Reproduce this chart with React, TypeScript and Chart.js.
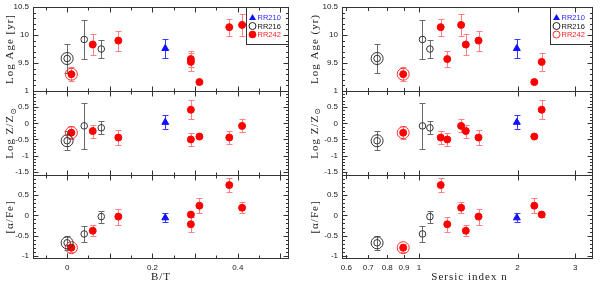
import React, { useEffect, useRef } from 'react';
import { Chart, registerables } from 'chart.js';

Chart.register(...registerables);

// ---------------- data ----------------
// RR210 (blue triangle)
const RR210_BT = [0.23];
const RR210_N = [1.99];
const RR210_AGE = [9.76];
const RR210_AGE_ERR = [0.17];
const RR210_Z = [0.03];
const RR210_Z_ERR = [0.22];
const RR210_AFE = [-0.06];
const RR210_AFE_ERR = [0.11];
const RR210_CIRCLED: number[] = [];

// RR216 (black open circles); index 0 is the circled galaxy
const RR216_BT = [0.0, 0.04, 0.08];
const RR216_N = [0.745, 1.025, 1.08];
const RR216_AGE = [9.58, 9.92, 9.75];
const RR216_AGE_ERR = [0.26, 0.34, 0.16];
const RR216_Z = [-0.54, -0.08, -0.14];
const RR216_Z_ERR = [0.29, 0.71, 0.2];
const RR216_AFE = [-0.68, -0.46, -0.03];
const RR216_AFE_ERR = [0.17, 0.2, 0.15];
const RR216_CIRCLED = [0];

// RR242 (red filled circles); index 0 is the circled galaxy
const RR242_BT = [0.01, 0.06, 0.12, 0.29, 0.29, 0.31, 0.38, 0.41];
const RR242_N = [0.895, 1.39, 1.52, 1.22, 2.37, 2.25, 1.165, 1.345];
const RR242_AGE = [9.3, 9.83, 9.9, 9.57, 9.52, 9.16, 10.14, 10.18];
const RR242_AGE_ERR = [0.13, 0.18, 0.18, 0.14, 0.16, 0.03, 0.15, 0.19];
const RR242_Z = [-0.29, -0.24, -0.44, -0.5, 0.42, -0.41, -0.44, -0.08];
const RR242_Z_ERR = [0.21, 0.2, 0.23, 0.2, 0.3, 0.05, 0.2, 0.2];
const RR242_AFE = [-0.8, -0.38, -0.03, -0.22, 0.02, 0.24, 0.75, 0.19];
const RR242_AFE_ERR = [0.1, 0.14, 0.2, 0.19, 0.05, 0.19, 0.17, 0.14];
const RR242_CIRCLED = [0];

// tick labels
const AGE_TICKS = [9.5, 10, 10.5];
const Z_TICKS = [-1.5, -1, -0.5, 0, 0.5, 1];
const AFE_TICKS = [-1, -0.5, 0, 0.5];
const BT_TICKS = [0, 0.2, 0.4];
const N_TICKS = [0.6, 0.7, 0.8, 0.9, 1, 2, 3];
const LEGEND_LABELS = ['RR210', 'RR216', 'RR242'];

// ---------------- styles ----------------
const FRAME = '#333333';
const TEXT = '#222222';
const TICK_FONT = { family: '"Liberation Sans", Arial, sans-serif', size: 8 };
const TITLE_FONT = '11px "Liberation Serif", "DejaVu Serif", serif';
const SUB_FONT = '8px "DejaVu Sans", sans-serif';

const GROUPS = [
  {
    bt: RR210_BT, n: RR210_N,
    vals: [RR210_AGE, RR210_Z, RR210_AFE], errs: [RR210_AGE_ERR, RR210_Z_ERR, RR210_AFE_ERR],
    circled: RR210_CIRCLED,
    style: 'triangle', radius: 4, fill: '#1010ff', stroke: '#1010ff', err: '#3a3aff', ring: '#1010ff', text: '#2a2aff',
  },
  {
    bt: RR216_BT, n: RR216_N,
    vals: [RR216_AGE, RR216_Z, RR216_AFE], errs: [RR216_AGE_ERR, RR216_Z_ERR, RR216_AFE_ERR],
    circled: RR216_CIRCLED,
    style: 'circle', radius: 3.3, fill: 'rgba(255,255,255,0)', stroke: '#333333', err: '#6a6a6a', ring: '#333333', text: '#111111',
  },
  {
    bt: RR242_BT, n: RR242_N,
    vals: [RR242_AGE, RR242_Z, RR242_AFE], errs: [RR242_AGE_ERR, RR242_Z_ERR, RR242_AFE_ERR],
    circled: RR242_CIRCLED,
    style: 'circle', radius: 3.5, fill: '#ff0000', stroke: '#ff0000', err: '#ff8080', ring: '#ff3030', text: '#ff2020',
  },
];

// rows from top to bottom
const ROWS = [
  { id: 'yAge', min: 9, max: 10.5, ticks: AGE_TICKS, title: ['Log Age [yr]', 'Log Age (yr)'], sub: '' },
  { id: 'yZ', min: -1.6, max: 1, ticks: Z_TICKS, title: ['Log Z/Z', 'Log Z/Z'], sub: '\u2299' },
  { id: 'yA', min: -1.08, max: 1, ticks: AFE_TICKS, title: ['[\u03b1/Fe]', '[\u03b1/Fe]'], sub: '' },
];

const fmt = (v: any) => String(Math.round(Number(v) * 100) / 100);

function buildDatasets(col: number) {
  const out: any[] = [];
  GROUPS.forEach((g) => {
    const xv = col === 0 ? g.bt : g.n;
    ROWS.forEach((row, r) => {
      const vals = g.vals[r];
      const errs = g.errs[r];
      if (g.circled.length) {
        out.push({
          data: g.circled.map((i) => ({ x: xv[i], y: vals[i] })),
          yAxisID: row.id,
          pointStyle: 'circle',
          pointRadius: 6,
          pointBackgroundColor: 'rgba(0,0,0,0)',
          pointBorderColor: g.ring,
          pointBorderWidth: 1,
        });
      }
      out.push({
        data: xv.map((x, i) => ({ x, y: vals[i] })),
        errs,
        errColor: g.err,
        yAxisID: row.id,
        pointStyle: g.style,
        pointRadius: g.radius,
        pointBackgroundColor: g.fill,
        pointBorderColor: g.stroke,
        pointBorderWidth: 1,
      });
    });
  });
  return out;
}

function drawYTitle(ctx: any, x: number, y: number, main: string, sub: string) {
  ctx.save();
  ctx.translate(x, y);
  ctx.rotate(-Math.PI / 2);
  ctx.letterSpacing = '1px';
  ctx.font = TITLE_FONT;
  const w1 = ctx.measureText(main).width;
  let w2 = 0;
  if (sub) {
    ctx.font = SUB_FONT;
    w2 = ctx.measureText(sub).width;
  }
  const start = -(w1 + w2) / 2;
  ctx.fillStyle = TEXT;
  ctx.textAlign = 'left';
  ctx.textBaseline = 'middle';
  ctx.font = TITLE_FONT;
  ctx.fillText(main, start, 0);
  if (sub) {
    ctx.font = SUB_FONT;
    ctx.fillText(sub, start + w1, 3);
  }
  ctx.restore();
}

function drawLegend(ctx: any, top: number, right: number, col: number) {
  const w = 42;
  const h = 37;
  const x0 = Math.round(right) - w - 0.5;
  const y0 = Math.round(top) + 0.5;
  ctx.save();
  ctx.strokeStyle = FRAME;
  ctx.lineWidth = 1;
  ctx.strokeRect(x0, y0, w, h);
  const mx = x0 + 6;
  ctx.font = '7.5px "Liberation Sans", Arial, sans-serif';
  ctx.textAlign = 'left';
  ctx.textBaseline = 'middle';
  LEGEND_LABELS.forEach((lab, i) => {
    const g = GROUPS[i];
    const my = y0 + 10 + i * 8.5;
    ctx.beginPath();
    if (i === 0) {
      ctx.moveTo(mx, my - 3.5);
      ctx.lineTo(mx + 3.5, my + 2.5);
      ctx.lineTo(mx - 3.5, my + 2.5);
      ctx.closePath();
      ctx.fillStyle = g.fill;
      ctx.fill();
    } else if (i === 1 || col === 1) {
      ctx.arc(mx, my, 3.5, 0, Math.PI * 2);
      ctx.strokeStyle = i === 1 ? '#222' : g.ring;
      ctx.stroke();
    } else {
      ctx.arc(mx, my, 3.8, 0, Math.PI * 2);
      ctx.fillStyle = g.fill;
      ctx.fill();
    }
    ctx.fillStyle = g.text;
    ctx.fillText(lab, mx + 5, my + 0.5);
  });
  ctx.restore();
}

const framePlugin = {
  id: 'frame',
  beforeDatasetsDraw(chart: any) {
    const ctx = chart.ctx;
    ctx.save();
    ctx.lineWidth = 1;
    chart.data.datasets.forEach((ds: any, i: number) => {
      if (!ds.errs) return;
      const meta = chart.getDatasetMeta(i);
      const ys = chart.scales[ds.yAxisID];
      ctx.strokeStyle = ds.errColor;
      meta.data.forEach((el: any, j: number) => {
        const v = ds.data[j].y;
        const e = ds.errs[j];
        const x = Math.round(el.x) + 0.5;
        const y1 = Math.round(ys.getPixelForValue(v + e)) + 0.5;
        const y2 = Math.round(ys.getPixelForValue(v - e)) + 0.5;
        ctx.beginPath();
        ctx.moveTo(x, y1);
        ctx.lineTo(x, y2);
        ctx.moveTo(x - 3, y1);
        ctx.lineTo(x + 3, y1);
        ctx.moveTo(x - 3, y2);
        ctx.lineTo(x + 3, y2);
        ctx.stroke();
      });
    });
    ctx.restore();
  },
  afterDraw(chart: any, _args: any, opts: any) {
    const ctx = chart.ctx;
    const area = chart.chartArea;
    const xs = chart.scales.x;
    ctx.save();
    ctx.strokeStyle = FRAME;
    ctx.lineWidth = 1;
    const L = Math.round(area.left) + 0.5;
    const R = Math.round(area.right) - 0.5;
    let topMost = Infinity;
    ROWS.forEach((row) => {
      const s = chart.scales[row.id];
      topMost = Math.min(topMost, s.top);
      const T = Math.round(s.top) + 0.5;
      const B = Math.round(s.bottom) + (Math.round(s.bottom) >= Math.round(area.bottom) ? -0.5 : 0.5);
      ctx.strokeRect(L, T, R - L, B - T);
      ctx.beginPath();
      for (let k = Math.ceil(row.min * 10 - 1e-6); k <= Math.floor(row.max * 10 + 1e-6); k++) {
        const y = Math.round(s.getPixelForValue(k / 10)) + 0.5;
        const len = k % 5 === 0 ? 5 : 2.5;
        ctx.moveTo(L, y);
        ctx.lineTo(L + len, y);
        ctx.moveTo(R, y);
        ctx.lineTo(R - len, y);
      }
      opts.xTicks.forEach((t: number[]) => {
        const x = Math.round(xs.getPixelForValue(t[0])) + 0.5;
        ctx.moveTo(x, B);
        ctx.lineTo(x, B - t[1]);
        ctx.moveTo(x, T);
        ctx.lineTo(x, T + t[1]);
      });
      ctx.stroke();
      drawYTitle(ctx, opts.titleX, (s.top + s.bottom) / 2, row.title[opts.col], row.sub);
    });
    ctx.fillStyle = TEXT;
    ctx.font = TITLE_FONT;
    ctx.letterSpacing = '1px';
    ctx.textAlign = 'center';
    ctx.textBaseline = 'middle';
    ctx.fillText(opts.xTitle, (area.left + area.right) / 2 + opts.xTitleShift, 277);
    ctx.restore();
    drawLegend(ctx, topMost, area.right, opts.col);
  },
};

function makeConfig(col: number) {
  const isL = col === 0;
  const yw = isL ? 33 : 42;
  const yScales: any = {};
  // Chart.js stacks scales bottom-up in definition order, so define them bottom first
  ROWS.slice().reverse().forEach((row) => {
    yScales[row.id] = {
      type: 'linear',
      position: 'left',
      stack: 'v',
      stackWeight: 1,
      min: row.min,
      max: row.max,
      grid: { display: false, drawTicks: false },
      border: { display: false },
      afterBuildTicks: (s: any) => {
        s.ticks = row.ticks.map((v) => ({ value: v }));
      },
      afterFit: (s: any) => {
        s.width = yw;
        s.paddingTop = 0;
        s.paddingBottom = 0;
      },
      ticks: { autoSkip: false, padding: 4, font: TICK_FONT, color: TEXT, callback: fmt },
    };
  });
  const xTicks: number[][] = [];
  if (isL) {
    for (let k = -1; k <= 10; k++) xTicks.push([k / 20, k % 2 === 0 ? 5 : 3]);
  } else {
    N_TICKS.forEach((v) => xTicks.push([v, v >= 1 ? 5 : 3.5]));
  }
  return {
    type: 'scatter',
    data: { datasets: buildDatasets(col) },
    options: {
      responsive: false,
      animation: false,
      events: [],
      layout: { padding: { left: 0, right: isL ? 11 : 3, top: 6, bottom: 0 } },
      plugins: {
        legend: { display: false },
        tooltip: { enabled: false },
        frame: {
          col,
          xTicks,
          titleX: isL ? 10.5 : 15,
          xTitle: isL ? 'B/T' : 'Sersic index n',
          xTitleShift: isL ? 0 : 2,
        },
      },
      scales: {
        x: {
          type: isL ? 'linear' : 'logarithmic',
          position: 'bottom',
          min: isL ? -0.08 : 0.582,
          max: isL ? 0.52 : 3.4,
          grid: { display: false, drawTicks: false },
          border: { display: false },
          afterBuildTicks: (s: any) => {
            s.ticks = (isL ? BT_TICKS : N_TICKS).map((v) => ({ value: v }));
          },
          afterFit: (s: any) => {
            s.height = 25;
            s.paddingLeft = 0;
            s.paddingRight = 0;
          },
          ticks: { autoSkip: false, maxRotation: 0, padding: 4, font: TICK_FONT, color: TEXT, callback: fmt },
        },
        ...yScales,
      },
    },
    plugins: [framePlugin],
  };
}

export default function App() {
  const lRef = useRef<HTMLCanvasElement>(null);
  const rRef = useRef<HTMLCanvasElement>(null);
  useEffect(() => {
    const a = new Chart(lRef.current as HTMLCanvasElement, makeConfig(0) as any);
    const b = new Chart(rRef.current as HTMLCanvasElement, makeConfig(1) as any);
    return () => {
      a.destroy();
      b.destroy();
    };
  }, []);
  return (
    <div style={{ position: 'absolute', left: 0, top: 0, width: 600, height: 284, background: '#fff' }}>
      <canvas ref={lRef} width={300} height={284} style={{ position: 'absolute', left: 0, top: 0 }} />
      <canvas ref={rRef} width={300} height={284} style={{ position: 'absolute', left: 300, top: 0 }} />
    </div>
  );
}
